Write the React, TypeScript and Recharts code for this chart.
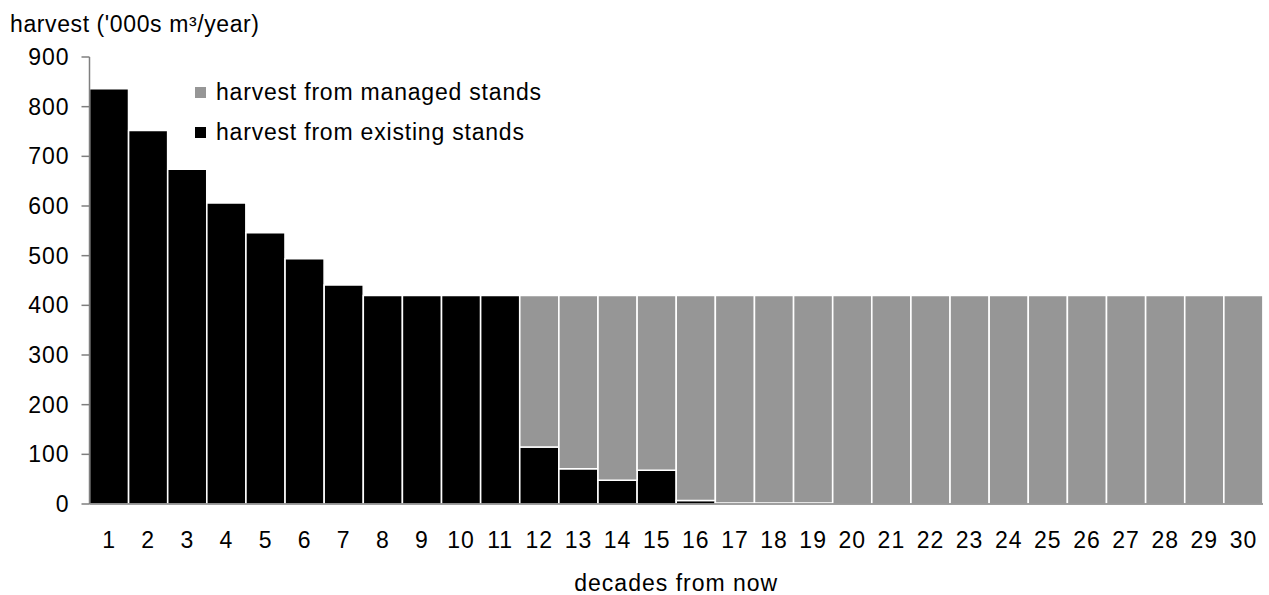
import React from 'react';
import { BarChart, Bar, XAxis, YAxis } from 'recharts';

const decades = [
  '1', '2', '3', '4', '5', '6', '7', '8', '9', '10',
  '11', '12', '13', '14', '15', '16', '17', '18', '19', '20',
  '21', '22', '23', '24', '25', '26', '27', '28', '29', '30',
];

const existingStands = [
  836, 752, 674, 606, 546, 494, 441, 420, 420, 420,
  420, 115, 71, 48, 68, 7, 2, 2, 2, 0,
  0, 0, 0, 0, 0, 0, 0, 0, 0, 0,
];

const managedStands = [
  0, 0, 0, 0, 0, 0, 0, 0, 0, 0,
  0, 305, 349, 372, 352, 413, 418, 418, 418, 420,
  420, 420, 420, 420, 420, 420, 420, 420, 420, 420,
];

const yTicks = [0, 100, 200, 300, 400, 500, 600, 700, 800, 900];

const legendItems = [
  { label: 'harvest from managed stands', color: '#969696' },
  { label: 'harvest from existing stands', color: '#000000' },
];

const data = decades.map((d, i) => ({
  decade: d,
  existing: existingStands[i],
  managed: managedStands[i],
}));

const FONT = '"Liberation Sans", Arial, sans-serif';
const tickStyle = { fontSize: 23, fill: '#000', fontFamily: FONT, letterSpacing: 1 };

export default function App() {
  return (
    <div style={{ position: 'absolute', left: 0, top: 0, width: 1269, height: 595, background: '#fff' }}>
      <div style={{ position: 'absolute', left: 10, top: 11, fontFamily: FONT, fontSize: 23, letterSpacing: 0.6, color: '#000', whiteSpace: 'nowrap' }}>
        harvest ('000s m³/year)
      </div>
      <BarChart
        width={1269}
        height={595}
        data={data}
        margin={{ top: 57, right: 6, bottom: 0, left: 0 }}
        barCategoryGap={0}
        barGap={0}
      >
        <XAxis
          dataKey="decade"
          height={91}
          tickLine={false}
          tickSize={0}
          tickMargin={28}
          interval={0}
          stroke="#7f7f7f"
          strokeWidth={1.5}
          tick={tickStyle}
          label={{ value: 'decades from now', position: 'insideBottom', offset: 4, style: { ...tickStyle } }}
        />
        <YAxis
          width={89.5}
          domain={[0, 900]}
          ticks={yTicks}
          tickSize={8}
          tickMargin={12}
          stroke="#7f7f7f"
          strokeWidth={1.5}
          tick={tickStyle}
          interval={0}
        />
        <Bar dataKey="existing" stackId="h" fill="#000000" stroke="#ffffff" strokeWidth={1.5} isAnimationActive={false} />
        <Bar dataKey="managed" stackId="h" fill="#969696" stroke="#ffffff" strokeWidth={1.5} isAnimationActive={false} />
      </BarChart>
      <div style={{ position: 'absolute', left: 195, top: 72, fontFamily: FONT, fontSize: 23, letterSpacing: 0.8, color: '#000' }}>
        {legendItems.map(item => (
          <div key={item.label} style={{ display: 'flex', alignItems: 'center', height: 40, whiteSpace: 'nowrap' }}>
            <span style={{ display: 'inline-block', width: 11, height: 11, background: item.color, marginRight: 10 }} />
            <span>{item.label}</span>
          </div>
        ))}
      </div>
    </div>
  );
}
